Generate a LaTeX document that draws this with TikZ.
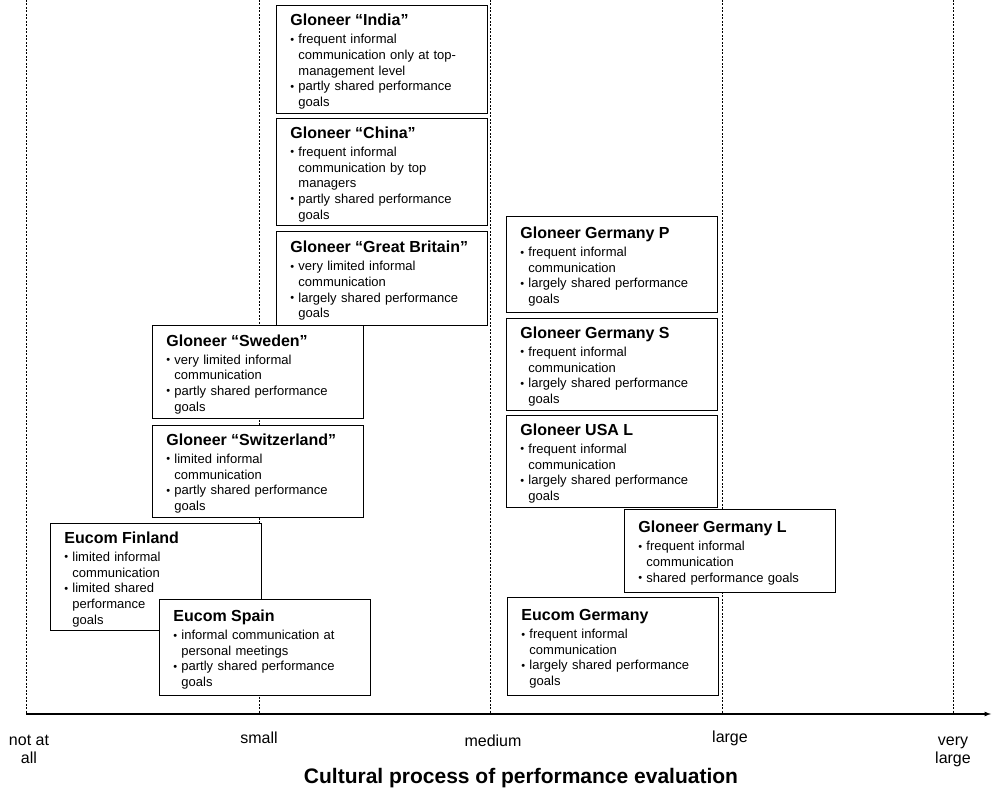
\documentclass[tikz,border=0pt]{standalone}
\usepackage{fontspec}
\setmainfont{Liberation Sans}
\usetikzlibrary{positioning}

\newcommand{\casetitle}[1]{{\fontsize{16}{17}\selectfont\bfseries\rule{0pt}{16pt}#1\par}\vspace{2.3pt}}
\newcommand{\bul}[1]{\noindent\hangindent=8pt\hangafter=1\makebox[8pt][l]{\raisebox{0.5pt}{\fontsize{11}{11}\selectfont\textbullet}}#1\par}

\begin{document}
\begin{tikzpicture}[
    x=1pt, y=-1pt,
    case/.style={draw, line width=0.9pt, fill=white, anchor=north west, text width=183pt, inner xsep=14pt, inner ysep=4pt, align=left, font=\fontsize{13}{15.7}\selectfont},
    guide/.style={dash pattern=on 2pt off 1.5pt, line width=0.8pt},
    axis/.style={draw, line width=1.2pt, -latex},
    degree/.style={font=\fontsize{16}{18}\selectfont, anchor=base, align=center, inner sep=0pt}
  ]
    \useasboundingbox (0,0) rectangle (994,791);

    % scale lines
    \foreach \x/\nm in {26/none,259/small,490/medium,722/large,953/vlarge}{
      \coordinate (top-\nm) at (\x,0);
      \coordinate (tick-\nm) at (\x,714);
      \draw [guide] (top-\nm) -- (tick-\nm);
    }
    \coordinate (axis-end) at (991,714);
    \path [axis] (tick-none) -- (axis-end);

    \node [degree] (lbl-none) at (29,763) {not at\\all};
    \node [degree] (lbl-small) at (259,743) {small};
    \node [degree] (lbl-medium) at (493,746) {medium};
    \node [degree] (lbl-large) at (730,742) {large};
    \node [degree] (lbl-vlarge) at (953,763) {very\\large};
    \node [font=\fontsize{21}{24}\selectfont\bfseries, anchor=base] (axis-title) at (521,783) {Cultural process of performance evaluation};

    % small
    \node [case, minimum height=108pt] (india) at (276,5) {\casetitle{Gloneer “India”}
      \bul{frequent informal\newline communication only at top-\newline management level}
      \bul{partly shared performance\newline goals}};
    \node [case, minimum height=106pt, below=4pt of india] (china) {\casetitle{Gloneer “China”}
      \bul{frequent informal\newline communication by top\newline managers}
      \bul{partly shared performance\newline goals}};
    \node [case, minimum height=94pt, below=5pt of china] (britain) {\casetitle{Gloneer “Great Britain”}
      \bul{very limited informal\newline communication}
      \bul{largely shared performance\newline goals}};
    \node [case, minimum height=93pt] (sweden) at (152,325) {\casetitle{Gloneer “Sweden”}
      \bul{very limited informal\newline communication}
      \bul{partly shared performance\newline goals}};
    \node [case, minimum height=92pt, below=6pt of sweden] (switzerland) {\casetitle{Gloneer “Switzerland”}
      \bul{limited informal\newline communication}
      \bul{partly shared performance\newline goals}};
    \node [case, minimum height=106pt] (finland) at (50,523) {\casetitle{Eucom Finland}
      \bul{limited informal\newline communication}
      \bul{limited shared\newline performance\newline goals}};
    \node [case, minimum height=96pt] (spain) at (159,599) {\casetitle{Eucom Spain}
      \bul{informal communication at\newline personal meetings}
      \bul{partly shared performance\newline goals}};

    % medium to large
    \node [case, minimum height=96pt] (germanyP) at (506,216) {\casetitle{Gloneer Germany P}
      \bul{frequent informal\newline communication}
      \bul{largely shared performance\newline goals}};
    \node [case, minimum height=92pt, below=5pt of germanyP] (germanyS) {\casetitle{Gloneer Germany S}
      \bul{frequent informal\newline communication}
      \bul{largely shared performance\newline goals}};
    \node [case, minimum height=92pt, below=4pt of germanyS] (usaL) {\casetitle{Gloneer USA L}
      \bul{frequent informal\newline communication}
      \bul{largely shared performance\newline goals}};
    \node [case, minimum height=83pt] (germanyL) at (624,509) {\casetitle{Gloneer Germany L}
      \bul{frequent informal\newline communication}
      \bul{shared performance goals}};
    \node [case, minimum height=98pt] (eucomGermany) at (507,597) {\casetitle{Eucom Germany}
      \bul{frequent informal\newline communication}
      \bul{largely shared performance\newline goals}};
  \end{tikzpicture}
\end{document}
